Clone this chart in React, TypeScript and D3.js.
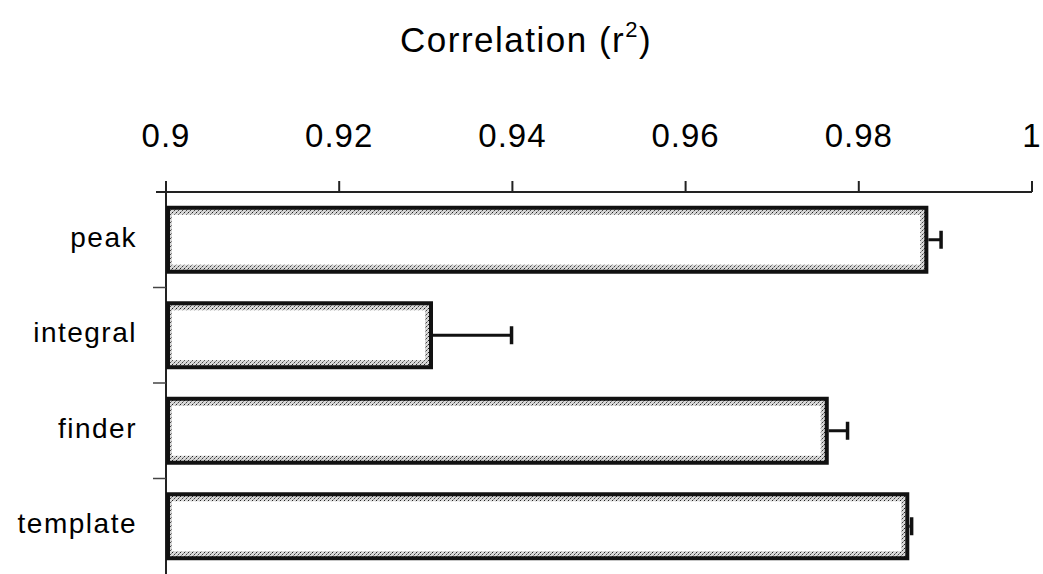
import React, { useEffect, useRef } from "react";
import * as d3 from "d3";

const categories = ["peak", "integral", "finder", "template"];
const values = [0.9878, 0.9306, 0.9763, 0.9856];
const errors = [0.0017, 0.0093, 0.0024, 0.0005];
const tickValues = [0.9, 0.92, 0.94, 0.96, 0.98, 1];
const tickLabels = ["0.9", "0.92", "0.94", "0.96", "0.98", "1"];

const FONT = "'Liberation Sans', Arial, sans-serif";

const App = () => {
    const svgRef = useRef<SVGSVGElement>(null);

    useEffect(() => {
        const width = 1043;
        const height = 574;
        const left = 166;
        const right = 1032;
        const top = 192;
        const bottom = 574;

        const svg = d3.select(svgRef.current).attr("width", width).attr("height", height);
        svg.selectAll("*").remove();

        // stipple pattern for the grey edges inside bars
        const pat = svg
            .append("defs")
            .append("pattern")
            .attr("id", "stipple")
            .attr("width", 4)
            .attr("height", 4)
            .attr("patternUnits", "userSpaceOnUse");
        pat.append("rect").attr("width", 4).attr("height", 4).attr("fill", "#d8d8d8");
        [
            [0, 0, "#222"],
            [2, 2, "#444"],
            [3, 1, "#888"],
            [1, 3, "#999"],
        ].forEach(([px, py, c]) =>
            pat.append("rect").attr("x", px).attr("y", py).attr("width", 1).attr("height", 1).attr("fill", c as string)
        );

        const x = d3.scaleLinear().domain([0.9, 1]).range([left, right]);
        const y = d3.scaleBand().domain(categories).range([top, bottom]).paddingInner(0.33).paddingOuter(0.165);
        const yTicks = d3.scaleBand().domain(categories).range([top, bottom]);

        // Title
        const title = svg
            .append("text")
            .attr("x", 400)
            .attr("y", 52)
            .style("font-family", FONT)
            .style("font-size", "35px")
            .style("letter-spacing", "1.5px");
        title.append("tspan").text("Correlation (r");
        title.append("tspan").attr("dy", -15).style("font-size", "22px").text("2");
        title.append("tspan").attr("dy", 15).text(")");

        // Top axis
        const axis = svg.append("g").attr("transform", `translate(0,${top})`);
        axis.append("line").attr("x1", left - 10).attr("x2", right).attr("stroke", "#222").attr("stroke-width", 2);
        axis.selectAll(".tick")
            .data(tickValues)
            .join("line")
            .attr("x1", (d) => x(d))
            .attr("x2", (d) => x(d))
            .attr("y1", 0)
            .attr("y2", -11)
            .attr("stroke", "#222")
            .attr("stroke-width", 2);
        axis.selectAll(".tlabel")
            .data(tickValues)
            .join("text")
            .attr("x", (d) => x(d))
            .attr("y", -45)
            .attr("text-anchor", "middle")
            .style("font-family", FONT)
            .style("font-size", "33px")
            .style("letter-spacing", "1px")
            .text((d, i) => tickLabels[i]);

        // Left axis
        svg.append("line")
            .attr("x1", left)
            .attr("x2", left)
            .attr("y1", top - 11)
            .attr("y2", bottom)
            .attr("stroke", "#222")
            .attr("stroke-width", 2);
        svg.selectAll(".ytick")
            .data(categories.slice(1))
            .join("line")
            .attr("x1", left - 13)
            .attr("x2", left)
            .attr("y1", (d) => yTicks(d))
            .attr("y2", (d) => yTicks(d))
            .attr("stroke", "#444")
            .attr("stroke-width", 1.5);

        svg.selectAll(".ylabel")
            .data(categories)
            .join("text")
            .attr("x", 137)
            .attr("y", (d) => y(d) + y.bandwidth() / 2 + 7)
            .attr("text-anchor", "end")
            .style("font-family", FONT)
            .style("font-size", "28px")
            .style("letter-spacing", "1.5px")
            .text((d) => d);

        // Bars
        const bars = svg.selectAll(".bar").data(categories).join("g");
        bars.append("rect")
            .attr("x", left + 2)
            .attr("y", (d) => y(d))
            .attr("width", (d, i) => x(values[i]) - left - 2)
            .attr("height", y.bandwidth())
            .attr("fill", "url(#stipple)")
            .attr("stroke", "#111")
            .attr("stroke-width", 4);
        bars.append("rect")
            .attr("x", left + 6)
            .attr("y", (d) => y(d) + 7)
            .attr("width", (d, i) => x(values[i]) - left - 12)
            .attr("height", y.bandwidth() - 14)
            .attr("fill", "#fff");

        // Error bars
        bars.append("line")
            .attr("x1", (d, i) => x(values[i]) + 2)
            .attr("x2", (d, i) => x(values[i] + errors[i]))
            .attr("y1", (d) => y(d) + y.bandwidth() / 2)
            .attr("y2", (d) => y(d) + y.bandwidth() / 2)
            .attr("stroke", "#111")
            .attr("stroke-width", 3);
        bars.append("line")
            .attr("x1", (d, i) => x(values[i] + errors[i]))
            .attr("x2", (d, i) => x(values[i] + errors[i]))
            .attr("y1", (d) => y(d) + y.bandwidth() / 2 - 9)
            .attr("y2", (d) => y(d) + y.bandwidth() / 2 + 9)
            .attr("stroke", "#111")
            .attr("stroke-width", 3.5);
    }, []);

    return (
        <div style={{ position: "absolute", left: 0, top: 0 }}>
            <svg ref={svgRef} style={{ display: "block", background: "#fff" }}></svg>
        </div>
    );
};

export default App;
